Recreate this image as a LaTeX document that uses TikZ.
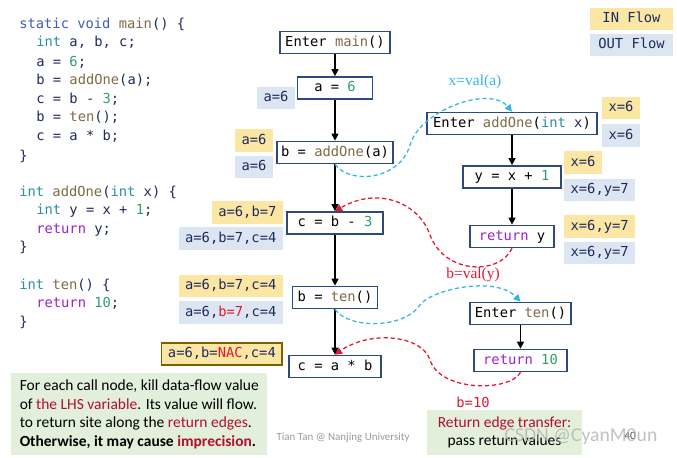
\documentclass[tikz,border=0pt]{standalone}
\usepackage{fontspec}
\usepackage{tikz}
\usetikzlibrary{arrows.meta, positioning, calc}
\newfontfamily\codefont{DejaVu Sans Mono}
\newfontfamily\notefont{Carlito}
\newfontfamily\lblfont{Liberation Serif}
\definecolor{boxblue}{HTML}{2E4A7D}
\definecolor{infill}{HTML}{FCE6A4}
\definecolor{outfill}{HTML}{DCE6F2}
\definecolor{nacborder}{HTML}{7F6000}
\definecolor{notegreen}{HTML}{E2EFDA}
\definecolor{callcyan}{HTML}{33B5E5}
\definecolor{retred}{HTML}{E0182F}
\definecolor{kwblue}{HTML}{3F5FB5}
\definecolor{typteal}{HTML}{2B8FA8}
\definecolor{funbrown}{HTML}{806A45}
\definecolor{numgreen}{HTML}{2E9E6B}
\definecolor{retpurple}{HTML}{A020C8}
\definecolor{vartext}{HTML}{1F2A5C}
\definecolor{darkred}{HTML}{B0102E}
\newcommand{\kwd}[1]{\textcolor{kwblue}{#1}}
\newcommand{\typ}[1]{\textcolor{typteal}{#1}}
\newcommand{\fun}[1]{\textcolor{funbrown}{#1}}
\newcommand{\num}[1]{\textcolor{numgreen}{#1}}
\newcommand{\rtn}[1]{\textcolor{retpurple}{#1}}
\newcommand{\hot}[1]{\textcolor{retred}{#1}}
\tikzset{
  cfg node/.style={
    rectangle, draw=boxblue, line width=1.2pt, fill=white,
    font=\codefont\fontsize{9.8}{12}\selectfont,
    text height=7.5pt, text depth=2.2pt,
    minimum height=0.55cm, inner xsep=2pt, inner ysep=0pt
  },
  inflow/.style={
    rectangle, fill=infill, text=vartext,
    font=\codefont\fontsize{9.8}{12}\selectfont,
    text height=7.5pt, text depth=2.2pt,
    minimum height=0.55cm, inner xsep=4.5pt, inner ysep=0pt
  },
  outflow/.style={
    inflow, fill=outfill
  },
  code line/.style={
    anchor=west, inner sep=0pt, text=vartext,
    font=\codefont\fontsize{9.8}{12}\selectfont,
    text height=7.5pt, text depth=2.2pt
  },
  flow arrow/.style={
    -{Triangle[length=5pt,width=5pt]}, line width=0.9pt, draw=black
  },
  call edge/.style={
    -{Triangle[length=5pt,width=5pt]}, line width=0.9pt, draw=callcyan,
    dash pattern=on 3pt off 2pt
  },
  ret edge/.style={
    -{Triangle[length=5pt,width=5pt]}, line width=0.9pt, draw=retred,
    dash pattern=on 3pt off 2pt
  }
}

\begin{document}
\begin{tikzpicture}[x=0.025cm, y=-0.025cm]
\useasboundingbox (0,0) rectangle (677,458);

% ====== source code ======
\node[code line] (c1) at (19,25) {\kwd{static} \kwd{void} \fun{main}() \{};
\node[code line] (c2) at (36,43) {\typ{int} a, b, c;};
\node[code line] (c3) at (36,63) {a = \num{6};};
\node[code line] (c4) at (36,81) {b = \fun{addOne}(a);};
\node[code line] (c5) at (36,100) {c = b - \num{3};};
\node[code line] (c6) at (36,118) {b = \fun{ten}();};
\node[code line] (c7) at (36,137) {c = a * b;};
\node[code line] (c8) at (19,157) {\}};
\node[code line] (c9) at (19,193) {\typ{int} \fun{addOne}(\typ{int} x) \{};
\node[code line] (c10) at (36,211) {\typ{int} y = x + \num{1};};
\node[code line] (c11) at (36,230) {\rtn{return} y;};
\node[code line] (c12) at (19,248) {\}};
\node[code line] (c13) at (19,286) {\typ{int} \fun{ten}() \{};
\node[code line] (c14) at (36,304) {\rtn{return} \num{10};};
\node[code line] (c15) at (19,323) {\}};

% ====== legend ======
\node[inflow, minimum width=2.075cm] (legin) at (631.5,19) {IN Flow};
\node[outflow, minimum width=2.075cm] (legout) at (631.5,45) {OUT Flow};

% ====== main() CFG ======
\node[cfg node, minimum width=2.75cm] (entermain) at (335,42.5) {Enter \fun{main}()};
\node[cfg node, minimum width=1.875cm] (aset) at (335,88) {a = \num{6}};
\node[cfg node, minimum width=2.9cm] (bcall) at (335,152.5) {b = \fun{addOne}(a)};
\node[cfg node, minimum width=2.4cm] (csub) at (335,223) {c = b - \num{3}};
\node[cfg node, minimum width=2.125cm] (bten) at (335,297.5) {b = \fun{ten}()};
\node[cfg node, minimum width=2.3cm] (cmul) at (335,366.5) {c = a * b};

\draw[flow arrow] (entermain) -- (aset);
\draw[flow arrow] (aset) -- (bcall);
\draw[flow arrow] (bcall) -- (csub);
\draw[flow arrow] (csub) -- (bten);
\draw[flow arrow] (bten) -- (cmul);

% -- facts of main() --
\node[outflow, anchor=east] (outa) at (295,98) {a=6};
\node[inflow, anchor=east] (inb) at (273,140.5) {a=6};
\node[outflow, anchor=east] (outb) at (273,167) {a=6};
\node[inflow, anchor=east] (inc) at (283,212.5) {a=6,b=7};
\node[outflow, anchor=east] (outc) at (283,238.5) {a=6,b=7,c=4};
\node[inflow, anchor=east] (ind) at (283,286) {a=6,b=7,c=4};
\node[outflow, anchor=east] (outd) at (283,312.5) {a=6,\hot{b=7},c=4};
\node[inflow, anchor=east, draw=nacborder, line width=1.2pt] (ine) at (283,354) {a=6,b=\hot{NAC},c=4};

% ====== addOne() CFG ======
\node[cfg node, minimum width=4.25cm] (enteradd) at (512,123.5) {Enter \fun{addOne}(\typ{int} \textcolor{vartext}{x})};
\node[cfg node, minimum width=2.45cm] (yset) at (512,177) {y = x + \num{1}};
\node[cfg node, minimum width=2.1cm] (rety) at (512,236.5) {\rtn{return} y};

\draw[flow arrow] (enteradd) -- (yset);
\draw[flow arrow] (yset) -- (rety);

% -- facts of addOne() --
\node[inflow, anchor=west] (inx) at (602,108) {x=6};
\node[outflow, anchor=west] (outx) at (602,135.5) {x=6};
\node[inflow, anchor=west] (iny) at (564,162.5) {x=6};
\node[outflow, anchor=west] (outy) at (564,190) {x=6,y=7};
\node[inflow, anchor=west] (inr) at (564,226.5) {x=6,y=7};
\node[outflow, anchor=west] (outr) at (564,253) {x=6,y=7};

% ====== ten() CFG ======
\node[cfg node, minimum width=2.525cm] (enterten) at (520.5,313.5) {Enter \fun{ten}()};
\node[cfg node, minimum width=2.325cm] (retten) at (520.5,360.5) {\rtn{return} \num{10}};

\draw[flow arrow] (enterten) -- (retten);

% ====== call / return edges ======
\draw[call edge] (bcall.south) .. controls (350,185) and (400,180) .. (410,145)
  .. controls (420,110) and (490,85) .. (enteradd.north);
\node[text=callcyan, font=\lblfont\fontsize{11}{13}\selectfont] (vala) at (475,82) {x=val(a)};

\draw[ret edge] (rety.south) .. controls (500,275) and (445,275) .. (430,235)
  .. controls (420,205) and (380,185) .. (csub.north);
\node[text=retred, font=\lblfont\fontsize{11}{13}\selectfont] (valy) at (473,275) {b=val(y)};

\draw[call edge] (bten.south) .. controls (350,330) and (405,328) .. (420,305)
  .. controls (430,290) and (495,275) .. (enterten.north);

\draw[ret edge] (retten.south) .. controls (510,392) and (440,392) .. (430,360)
  .. controls (422,335) and (370,330) .. (cmul.north);
\node[text=retred, font=\codefont\fontsize{9.8}{12}\selectfont] (val10) at (473,402) {b=10};

% ====== notes ======
\node[anchor=north west, fill=notegreen, align=left, inner xsep=0.175cm,
  minimum width=6.4cm, minimum height=2.05cm,
  font=\notefont\fontsize{11}{13.1}\selectfont] (note) at (11,373)
  {For each call node, kill data-flow value\\
   of \textcolor{darkred}{the LHS variable}. Its value will flow.\\
   to return site along the \textcolor{darkred}{return edges}.\\
   \textbf{Otherwise, it may cause \textcolor{darkred}{imprecision}.}};
\node[fill=notegreen, align=center, minimum width=3.875cm, minimum height=1.125cm,
  font=\notefont\fontsize{11}{13.1}\selectfont] (transfer) at (504.5,432.5)
  {\textcolor{darkred}{Return edge transfer:}\\pass return values};

\node[text=black!40, font=\notefont\fontsize{7.8}{9}\selectfont] (credit) at (343,438) {Tian Tan @ Nanjing University};
\node[text=black!70, font=\notefont\fontsize{8}{9}\selectfont] (page) at (630,436) {40};
\node[text=black!30, opacity=0.8, font=\notefont\fontsize{14}{16}\selectfont] (mark) at (581,437) {CSDN @CyanM0un};
\end{tikzpicture}
\end{document}
